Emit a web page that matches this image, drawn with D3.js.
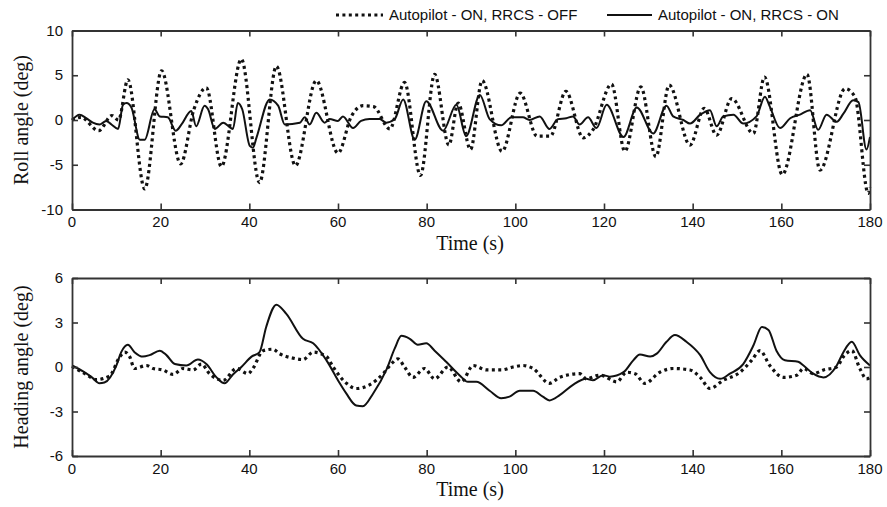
<!DOCTYPE html>
<html>
<head>
<meta charset="utf-8">
<script src="https://cdn.jsdelivr.net/npm/d3@7"></script>
<style>
  html, body { margin: 0; padding: 0; background: #fff; }
  svg { display: block; }
</style>
</head>
<body>
<svg id="chart" width="887" height="507"></svg>
<script>
// ---------- DATA ----------
const xTicks = [0, 20, 40, 60, 80, 100, 120, 140, 160, 180];
const rollTicks = [-10, -5, 0, 5, 10];
const headTicks = [-6, -3, 0, 3, 6];
const seriesNames = ["Autopilot - ON, RRCS - OFF", "Autopilot - ON, RRCS - ON"];

// Roll angle, autopilot ON, RRCS OFF  [time (s), deg]
const rollOff = [[0,0],[2,0.3],[6,-1.2],[9,0.5],[10.5,0],[12.6,4.5],[16.4,-7.7],[20.2,5.5],[24.5,-4.9],[27.5,1.2],[30.3,3.6],[33.7,-5.2],[38.2,6.8],[42.3,-7.0],[46.1,6.0],[50.4,-5.1],[55.1,4.4],[60,-3.7],[63,0.4],[65.6,1.6],[68,1.5],[71.7,-1.0],[75,4.2],[78.6,-6.2],[81.8,5.1],[85,-2.8],[87.1,1.9],[89.9,-3.3],[92.5,4.4],[97,-3.5],[101.1,3.0],[104.9,-1.8],[107.9,-1.8],[111.4,3.2],[115.3,-2.0],[117.5,-1.1],[121.7,4.0],[124.7,-3.5],[128.3,3.7],[131.7,-4.1],[134.7,3.9],[139.4,-2.8],[142.6,1.3],[145.4,-1.7],[148.8,2.4],[153.7,-1.5],[156.2,4.8],[160.2,-6.1],[165.8,5.1],[168.7,-5.6],[174.4,3.5],[176.6,2.6],[179.6,-8.2],[180,-7.5]];

// Roll angle, autopilot ON, RRCS ON
const rollOn = [[0,0],[1.7,0.6],[3.2,0.2],[4.7,-0.3],[6.2,-0.5],[7.7,-0.1],[8.9,-0.5],[10.4,-1.0],[11.5,1.7],[12.3,1.9],[13.4,1.4],[15.3,-2.2],[16.4,-2.2],[18.6,1.2],[19.8,0.4],[21.6,0.3],[23.4,-1.2],[24.7,-0.5],[26.9,1.0],[28,-0.7],[29.9,1.6],[30.7,1.2],[32.2,-1.0],[34.1,-0.3],[36.3,-1.0],[37.4,1.9],[38.4,1.2],[40.1,-2.9],[40.8,-3.1],[41.6,-2.0],[44.6,2.3],[46.5,1.6],[48,-0.5],[51.4,-0.3],[52.5,0.3],[53.6,-0.5],[55.1,0.8],[57,-0.3],[58.1,0.1],[60,-0.1],[61.1,0.4],[63.4,-0.9],[65.2,-0.1],[67.1,0.1],[69.4,0.1],[70.9,-0.3],[72.8,0.1],[74.7,2.3],[77.3,-2.2],[79.9,2.1],[83.7,-1.2],[86.7,1.7],[88.9,-1.8],[92,2.8],[94.2,0.1],[96.8,-0.6],[99.1,0.3],[101.7,0.3],[103.2,0.0],[105.5,0.4],[107.7,-1.0],[109.6,0.1],[111.5,0.2],[113,0.4],[114.5,-0.5],[116.4,0.3],[118.3,-0.9],[120.6,1.7],[124.4,-1.9],[127.4,1.4],[131.1,-1.5],[134.1,1.6],[135.6,0.4],[137.9,0.0],[139.4,-0.4],[141.7,0.6],[143.9,1.1],[145.4,-0.7],[146.9,0.4],[149.2,0.6],[151.4,-0.4],[154.4,0.4],[156.3,2.6],[157.4,1.5],[159.7,-0.9],[162,0.2],[164.2,0.6],[166.5,1.1],[168.3,-1.1],[170.2,0.6],[172.5,-0.2],[174,0.7],[176.2,2.2],[177.4,2.0],[179.2,-3.3],[180,-1.9]];

// Heading angle, autopilot ON, RRCS OFF
const headOff = [[0,0.05],[3.2,-0.5],[5.5,-0.85],[8.5,-0.6],[10.8,0.7],[11.9,1.0],[13,0.7],[14.1,-0.1],[16.8,0.1],[18.3,-0.1],[20.5,-0.2],[22.8,-0.5],[25,-0.1],[27.3,-0.2],[29.2,0.2],[31,-0.45],[34.1,-0.9],[37.1,-0.1],[39.7,-0.45],[40.8,-0.1],[43.1,1.1],[45.3,1.2],[46.8,0.9],[49.8,0.6],[52.1,0.5],[54.4,1.0],[57.4,0.7],[58.9,0],[61.9,-1.1],[64.1,-1.45],[67.1,-1.2],[70.2,-0.45],[72,0.2],[73.5,0.55],[75,0],[76.9,-0.7],[79.5,-0.1],[81.8,-0.8],[84.8,0],[87.8,-1.0],[90.5,0.1],[93.5,-0.2],[96.8,-0.2],[99.5,0],[101.7,0.1],[104,-0.1],[107.7,-1.1],[110,-0.7],[114.5,-0.45],[116,-0.8],[119.1,-0.55],[122.9,-1.0],[125.1,-0.35],[127,-0.45],[129.2,-1.1],[132.6,-0.35],[135.6,-0.1],[139.4,-0.2],[141.7,-0.7],[143.9,-1.45],[146.9,-0.9],[150.7,-0.35],[153.3,0.45],[155.2,1.1],[157.4,0.1],[160.5,-0.7],[163.5,-0.55],[165,-0.1],[167.2,-0.45],[169.5,-0.2],[172.5,0],[174,0.7],[175.9,1.1],[177.7,-0.1],[179.2,-0.8],[180,-0.7]];

// Heading angle, autopilot ON, RRCS ON
const headOn = [[0,0.1],[2.5,-0.3],[4.5,-0.7],[6.2,-1.1],[7.3,-1.05],[10,0.1],[11.1,1.0],[12.6,1.5],[14.1,1.0],[16,0.7],[17.5,0.8],[19.8,1.1],[21.3,0.8],[23.2,0.2],[25.8,0.1],[28.4,0.5],[30.3,0.2],[32.6,-0.7],[34.4,-1.1],[36.3,-0.5],[38.2,0],[40.5,0.7],[42.3,1.0],[43.8,2.7],[46.1,4.2],[48.3,3.6],[52.1,1.9],[54.4,1.6],[57.4,0.45],[60.4,-1.1],[61.9,-1.8],[64.1,-2.6],[65.6,-2.65],[67.9,-1.8],[70.9,-0.2],[72.8,1.25],[74.3,2.1],[76.2,1.9],[78,1.5],[79.9,1.6],[81.8,1.1],[84.4,0.35],[87.4,-0.55],[89.3,-1.0],[91.2,-1.0],[94.2,-1.6],[96.8,-2.1],[98.7,-2.0],[101,-1.6],[104,-1.6],[106.2,-2.0],[107.7,-2.25],[110,-1.9],[113,-1.2],[116,-0.8],[117.5,-0.9],[119.8,-0.55],[121.3,-0.65],[124.4,-0.35],[126.6,0.45],[128.1,0.85],[130.4,0.7],[131.9,0.9],[134.1,1.7],[136,2.15],[138.6,1.7],[141.7,0.8],[143.9,-0.35],[146.2,-0.8],[148.4,-0.45],[151.4,0.2],[153.7,1.45],[155.6,2.7],[157.1,2.5],[158.9,1.1],[160.8,0.45],[163.8,0.35],[165,0.1],[167.2,-0.45],[169.5,-0.7],[172.5,0.1],[174,1.0],[175.9,1.7],[177.7,0.8],[180,0.1]];

// ---------- DRAW ----------
const svg = d3.select("#chart");
const tickFont = "'Liberation Sans Narrow', 'Arial Narrow', 'Liberation Sans', Arial, sans-serif";
const serif = "'Liberation Serif', 'Times New Roman', serif";
const axisColor = "#333";

const x = d3.scaleLinear().domain([0, 180]).range([72, 870]);

function panel(top, bottom, yDomain, yTicks, label, dOff, dOn) {
  const y = d3.scaleLinear().domain(yDomain).range([bottom, top]);
  const g = svg.append("g");

  // series
  const line = d3.line().x(d => x(d[0])).y(d => y(d[1])).curve(d3.curveMonotoneX);
  g.append("path").datum(dOn)
    .attr("d", line).attr("fill", "none")
    .attr("stroke", "#111").attr("stroke-width", 2).attr("stroke-linejoin", "round");
  g.append("path").datum(dOff)
    .attr("d", line).attr("fill", "none")
    .attr("stroke", "#111").attr("stroke-width", 3.2)
    .attr("stroke-dasharray", "3,3.4");

  // axes (ticks inward on all sides)
  const tl = 6;
  g.append("g").attr("transform", `translate(0,${bottom})`)
    .call(d3.axisBottom(x).tickValues(xTicks).tickSizeInner(-tl).tickSizeOuter(0).tickFormat(""));
  g.append("g").attr("transform", `translate(0,${top})`)
    .call(d3.axisTop(x).tickValues(xTicks).tickSizeInner(-tl).tickSizeOuter(0).tickFormat(""));
  g.append("g").attr("transform", `translate(${x(0)},0)`)
    .call(d3.axisLeft(y).tickValues(yTicks).tickSizeInner(-tl).tickSizeOuter(0).tickFormat(""));
  g.append("g").attr("transform", `translate(${x(180)},0)`)
    .call(d3.axisRight(y).tickValues(yTicks).tickSizeInner(-tl).tickSizeOuter(0).tickFormat(""));
  g.selectAll(".domain, .tick line").attr("stroke", axisColor).attr("stroke-width", 1.6);
  g.selectAll(".domain").attr("stroke-width", 1.8);

  // tick labels
  g.selectAll(".xl").data(xTicks).enter().append("text")
    .attr("x", d => x(d)).attr("y", bottom + 17.5)
    .attr("text-anchor", "middle")
    .style("font-family", tickFont).style("font-size", "15px").attr("fill", "#111")
    .text(d => d);
  g.selectAll(".yl").data(yTicks).enter().append("text")
    .attr("x", x(0) - 9).attr("y", d => y(d) + 5)
    .attr("text-anchor", "end")
    .style("font-family", tickFont).style("font-size", "15px").attr("fill", "#111")
    .text(d => d);

  // axis titles
  g.append("text").attr("x", (x(0) + x(180)) / 2 - 1).attr("y", bottom + 40)
    .attr("text-anchor", "middle")
    .style("font-family", serif).style("font-size", "20px").attr("fill", "#111")
    .text("Time (s)");
  g.append("text")
    .attr("transform", `translate(28,${(top + bottom) / 2}) rotate(-90)`)
    .attr("text-anchor", "middle")
    .style("font-family", serif).style("font-size", "20px").attr("fill", "#111")
    .text(label);
}

panel(30.5, 209.5, [-10, 10], rollTicks, "Roll angle (deg)", rollOff, rollOn);
panel(278, 456, [-6, 6], headTicks, "Heading angle (deg)", headOff, headOn);

// legend
const lg = svg.append("g");
lg.append("line").attr("x1", 336).attr("x2", 383).attr("y1", 15).attr("y2", 15)
  .attr("stroke", "#111").attr("stroke-width", 3.2).attr("stroke-dasharray", "3,3.4");
lg.append("text").attr("x", 389).attr("y", 20)
  .style("font-family", "'Liberation Sans', Arial, sans-serif").style("font-size", "15px").attr("fill", "#111")
  .text(seriesNames[0]);
lg.append("line").attr("x1", 607).attr("x2", 652).attr("y1", 15).attr("y2", 15)
  .attr("stroke", "#111").attr("stroke-width", 2);
lg.append("text").attr("x", 658).attr("y", 20)
  .style("font-family", "'Liberation Sans', Arial, sans-serif").style("font-size", "15px").attr("fill", "#111")
  .text(seriesNames[1]);
</script>
</body>
</html>
